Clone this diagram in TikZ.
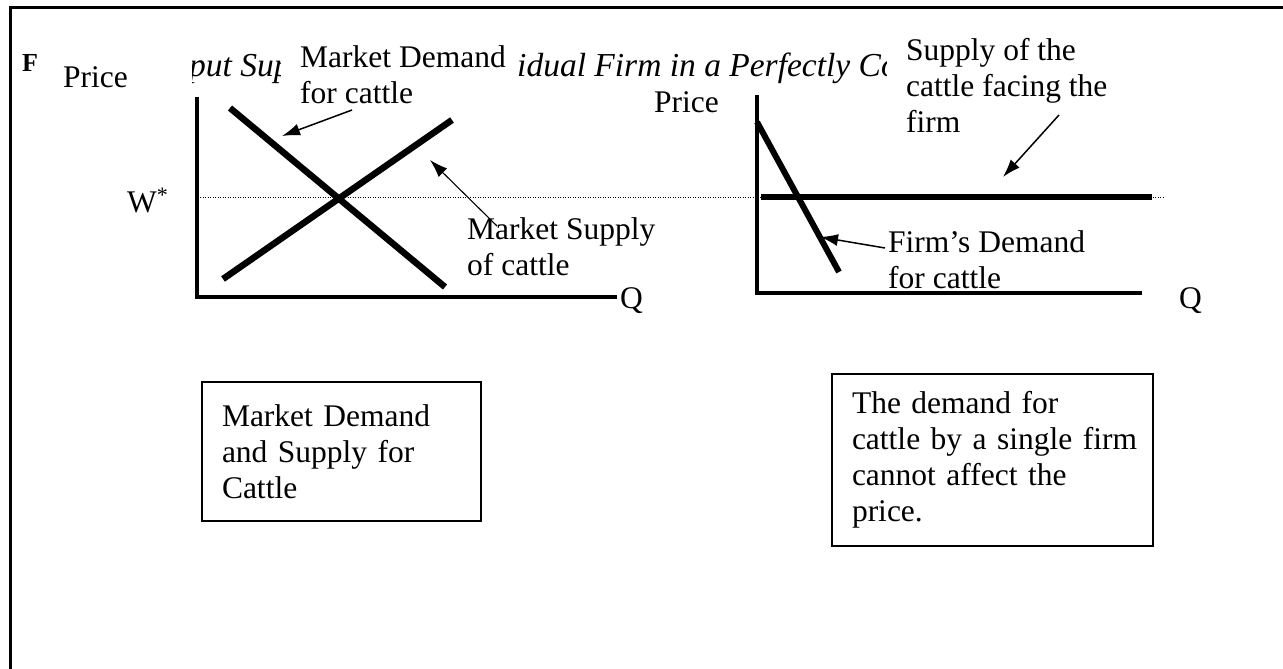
\documentclass[tikz,border=0pt]{standalone}
\usepackage{fontspec}
\setmainfont{Liberation Serif}
\usetikzlibrary{arrows.meta}

\tikzset{
  lbl/.style={inner sep=0pt, anchor=base west, align=left, font=\fontsize{31.5}{36}\selectfont},
  ttl/.style={inner sep=0pt, anchor=base west, font=\fontsize{33.5}{38}\selectfont\itshape},
  axis/.style={line width=4pt},
  curve/.style={line width=6.5pt},
  pointer/.style={line width=1.5pt, ->},
  note/.style={draw, line width=2pt, anchor=north west, inner xsep=20pt, inner ysep=0pt, align=left, font=\fontsize{31.5}{36}\selectfont},
}

\begin{document}
\begin{tikzpicture}[x=1pt, y=-1pt, >={Latex[length=18pt,width=12pt]}]
\useasboundingbox (0,0) rectangle (1283,669);
\draw[line width=3pt] (1283,8) -- (10,8) -- (10,669);

\begin{scope}
\clip (192,40) rectangle (280,95);
\node[ttl, name=title_1] at (189,77) {put Sup};
\end{scope}
\begin{scope}
\clip (518,40) rectangle (886,95);
\node[ttl, name=title_2] at (517,77) {idual Firm in a Perfectly Co};
\end{scope}

\node[lbl, name=fig, font=\fontsize{26}{30}\selectfont\bfseries] at (22,72) {F};
\node[lbl, name=price_l] at (63,88) {Price};
\node[lbl, name=wstar] at (127,212) {W\textsuperscript{*}};
\node[lbl, name=q_l] at (620,308) {Q};
\node[lbl, name=mkt_dem] at (300,103) {Market Demand\\for cattle};
\node[lbl, name=mkt_sup] at (467,275) {Market Supply\\of cattle};

\node[lbl, name=price_r] at (654,112) {Price};
\node[lbl, name=q_r] at (1179,308) {Q};
\node[lbl, name=firm_sup] at (906,132) {Supply of the\\cattle facing the\\firm};
\node[lbl, name=firm_dem] at (888,288) {Firm’s Demand\\for cattle};

\coordinate (dot_l) at (200,197);
\coordinate (dot_r) at (1163,197);
\draw[line width=1pt, dash pattern=on 1pt off 1.5pt] (dot_l) -- (dot_r);

\coordinate (ax_l_top) at (197,97);
\coordinate (ax_l_org) at (197,297);
\coordinate (ax_l_end) at (617,297);
\draw[axis] (ax_l_top) -- (ax_l_org) -- (ax_l_end);

\coordinate (dem_l_a) at (230,108);
\coordinate (dem_l_b) at (445,287);
\coordinate (sup_l_a) at (223,279);
\coordinate (sup_l_b) at (452,120);
\draw[curve] (dem_l_a) -- (dem_l_b);
\draw[curve] (sup_l_a) -- (sup_l_b);

\coordinate (mkt_dem_tail) at (352,110);
\coordinate (mkt_dem_tip) at (282,136);
\coordinate (mkt_sup_tail) at (497,226);
\coordinate (mkt_sup_tip) at (430,160);
\draw(mkt_dem_tail) edge[pointer](mkt_dem_tip);
\draw(mkt_sup_tail) edge[pointer, line width=1.1pt](mkt_sup_tip);

\coordinate (ax_r_top) at (757,95);
\coordinate (ax_r_org) at (757,293);
\coordinate (ax_r_end) at (1142,293);
\draw[axis] (ax_r_top) -- (ax_r_org) -- (ax_r_end);

\coordinate (sup_r_a) at (761,197);
\coordinate (sup_r_b) at (1152,197);
\coordinate (dem_r_a) at (757,122);
\coordinate (dem_r_b) at (839,272);
\draw[curve, line width=6pt] (sup_r_a) -- (sup_r_b);
\draw[curve, line width=6pt] (dem_r_a) -- (dem_r_b);

\coordinate (firm_dem_tail) at (885,248);
\coordinate (firm_dem_tip) at (820,237);
\coordinate (firm_sup_tail) at (1059,115);
\coordinate (firm_sup_tip) at (1003,177);
\draw(firm_dem_tail) edge[pointer](firm_dem_tip);
\draw(firm_sup_tail) edge[pointer](firm_sup_tip);

\node[note, name=box_l, text width=239pt, minimum height=139pt] at (201,381)
  {\mbox{Market Demand}\\\mbox{and Supply for}\\\mbox{Cattle}};
\node[note, name=box_r, text width=281pt, minimum height=172pt] at (831,373)
  {\mbox{The demand for}\\\mbox{cattle by a single firm}\\\mbox{cannot affect the}\\\mbox{price.}};
\end{tikzpicture}
\end{document}
